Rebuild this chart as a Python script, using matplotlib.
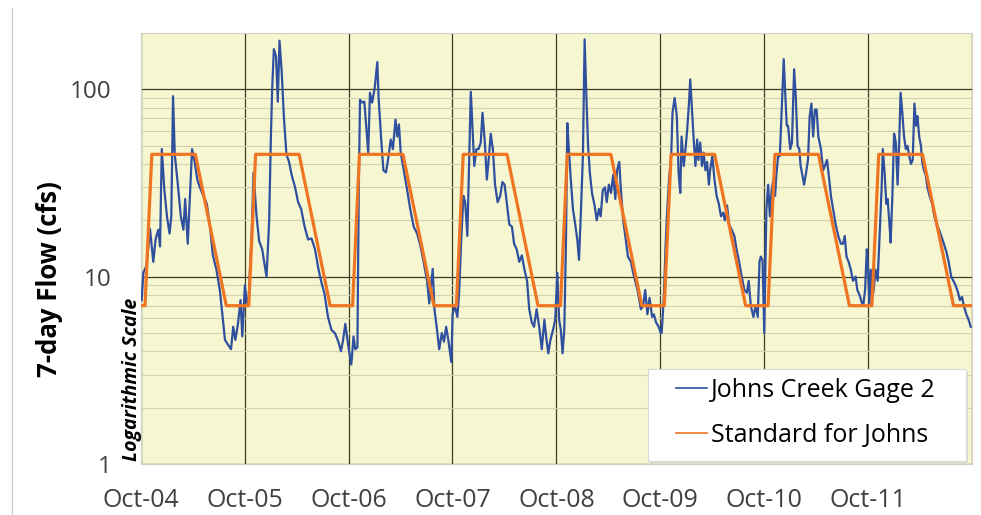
import matplotlib

matplotlib.use("Agg")
import matplotlib.pyplot as plt  # noqa: E402
import matplotlib.dates as mdates  # noqa: E402
import numpy as np  # noqa: E402
import pandas as pd  # noqa: E402
from matplotlib.lines import Line2D  # noqa: E402
from matplotlib.patches import Rectangle  # noqa: E402
from matplotlib.ticker import FixedLocator, NullFormatter  # noqa: E402

plt.rcParams["font.family"] = ["Open Sans", "DejaVu Sans"]

# 7-day flow at Johns Creek Gage 2
# x = months since 1 Oct 2004, y = cfs
flow_month = [
    0.08, 0.27, 0.65, 1.04, 1.42, 1.7, 2.0, 2.2, 2.4, 2.7, 3.0, 3.3, 3.5, 3.7, 3.9,
    4.2, 4.6, 4.9, 5.1, 5.4, 5.65, 5.9, 6.2, 6.5, 6.8, 7.2, 7.6, 8.0, 8.3, 8.7,
    9.1, 9.4, 9.7, 10.1, 10.4, 10.65, 10.9, 11.2, 11.5, 11.7, 12.0,
    12.2, 12.4, 12.8, 13.0, 13.35, 13.65, 14.0, 14.5, 14.8, 15.0, 15.15, 15.35,
    15.6, 15.8, 16.0, 16.25, 16.5, 16.8, 17.1, 17.4, 17.8, 18.15, 18.5, 18.9,
    19.3, 19.7, 20.1, 20.5, 20.8, 21.2, 21.6, 22.0, 22.4, 22.8, 23.1, 23.35,
    23.6, 24.0,
    24.3, 24.55, 24.75, 25.0, 25.15, 25.3, 25.55, 25.8, 26.05, 26.25, 26.45,
    26.7, 27.0, 27.3, 27.45, 27.75, 28.0, 28.3, 28.6, 28.85, 29.1, 29.4, 29.6,
    29.8, 30.0, 30.35, 30.75, 31.1, 31.5, 31.9, 32.3, 32.65, 33.05, 33.3, 33.7,
    33.9, 34.2, 34.45, 34.75, 35.0, 35.25, 35.5, 35.85, 36.0,
    36.25, 36.55, 36.75, 37.0, 37.25, 37.45, 37.7, 37.9, 38.1, 38.3, 38.5,
    38.75, 39.0, 39.25, 39.45, 39.7, 39.95, 40.2, 40.4, 40.65, 40.9, 41.2, 41.5,
    41.75, 42.0, 42.25, 42.55, 42.85, 43.1, 43.4, 43.7, 44.0, 44.3, 44.6, 44.85,
    45.15, 45.4, 45.7, 46.0, 46.3, 46.6, 46.8, 47.05, 47.3, 47.6, 47.85,
    48.1, 48.3, 48.5, 48.7, 48.9, 49.1, 49.25, 49.45, 49.65, 49.9, 50.2, 50.4,
    50.6, 50.8, 51.05, 51.25, 51.45, 51.65, 51.85, 52.1, 52.4, 52.65, 52.9,
    53.1, 53.35, 53.6, 53.8, 54.05, 54.3, 54.55, 54.8, 55.0, 55.25, 55.4, 55.7,
    55.95, 56.25, 56.6, 56.85, 57.1, 57.4, 57.75, 58.0, 58.25, 58.5, 58.75,
    59.05, 59.25, 59.5, 59.8, 60.05,
    60.15, 60.4, 60.6, 60.75, 61.0, 61.25, 61.4, 61.65, 61.9, 62.1, 62.3, 62.45,
    62.7, 62.9, 63.1, 63.3, 63.45, 63.65, 63.85, 64.05, 64.25, 64.4, 64.6, 64.8,
    65.0, 65.2, 65.4, 65.6, 65.75, 66.0, 66.25, 66.5, 66.75, 67.0, 67.25, 67.45,
    67.7, 67.95, 68.25, 68.55, 68.8, 69.1, 69.4, 69.7, 70.0, 70.2, 70.45, 70.75,
    71.0, 71.25, 71.45, 71.6, 71.8, 72.0,
    72.25, 72.45, 72.65, 72.85, 73.05, 73.25, 73.4, 73.6, 73.8, 74.0, 74.25,
    74.4, 74.6, 74.75, 75.0, 75.2, 75.45, 75.65, 75.85, 76.05, 76.2, 76.4, 76.6,
    76.8, 77.05, 77.25, 77.45, 77.65, 77.85, 78.05, 78.25, 78.55, 78.8, 79.0,
    79.25, 79.45, 79.7, 79.95, 80.25, 80.55, 80.85, 81.1, 81.3, 81.5, 81.75,
    82.0, 82.25, 82.55, 82.75, 83.05, 83.25, 83.45, 83.65, 83.85, 84.0, 84.15,
    84.3, 84.6, 84.85, 85.1, 85.35, 85.55, 85.7, 85.9, 86.1, 86.25, 86.45, 86.6,
    86.8, 87.0, 87.2, 87.4, 87.6, 87.75, 87.95, 88.15, 88.35, 88.55, 88.75,
    88.95, 89.15, 89.35, 89.55, 89.7, 89.9, 90.1, 90.25, 90.45, 90.65, 90.85,
    91.1, 91.4, 91.65, 91.9, 92.2, 92.45, 92.75, 93.05, 93.3, 93.6, 93.85, 94.1,
    94.4, 94.6, 94.85, 95.05, 95.35, 95.6, 95.85,
]
flow_cfs = [
    7.5, 10.5, 11.5, 18, 12, 16, 17.8, 14.5, 48, 29, 21, 17, 21, 92, 45,
    33, 21, 17.8, 26, 15, 27, 48, 41, 33, 30, 27, 24.5, 18, 13, 11,
    8.5, 6.3, 4.6, 4.3, 4.1, 5.4, 4.6, 5.6, 7.5, 4.8, 9,
    7.5, 7, 17.8, 36, 21, 15.5, 14, 10, 19.5, 54, 100, 164,
    150, 86, 182, 125, 72, 45, 41, 35, 30, 25, 23, 18.5,
    15.8, 16, 14, 11, 9.5, 8.1, 6.1, 5.2, 5, 4.5, 4.0, 4.6,
    5.6, 4.1,
    3.4, 4.8, 4.1, 4.2, 27, 88, 85, 86, 61, 46, 96,
    85, 102, 140, 90, 54, 37, 36, 44, 54, 48, 69, 56,
    65, 46, 37, 29, 23, 18.5, 17, 14.5, 12, 9.5, 7.2, 11,
    6.7, 5.2, 4.1, 5, 4.5, 5.4, 4.6, 3.5, 6.3,
    7, 6.1, 8.2, 16, 27, 25, 16.5, 40, 97, 61, 39,
    48, 48, 52, 75, 54, 33, 44, 58, 48, 31, 25, 27,
    32, 31, 25, 19, 18.5, 15, 14, 12, 13, 10.9, 9.5, 6.7,
    5.7, 5.4, 6.7, 5.4, 4.1, 5.9, 4.8, 3.9, 4.6, 5.2, 5.9,
    10.5, 5.9, 5.2, 3.9, 5.2, 16, 66, 46, 33, 23, 18.5, 15.8,
    12.3, 21, 44, 185, 92, 50, 36, 28, 24, 20, 23,
    21, 29, 30, 25, 31, 28, 35, 26, 37, 41, 31, 20,
    16.5, 12.8, 12, 10.5, 9.5, 8.3, 6.7, 7, 8.5, 6.3, 7.7,
    6.1, 6.3, 5.7, 5.4, 5.0,
    5, 7.8, 14.5, 21, 33, 44, 75, 90, 72, 36, 28, 56,
    39, 48, 61, 84, 113, 78, 54, 39, 54, 42, 52, 39,
    46, 37, 41, 31, 37, 44, 33, 27, 24.5, 21, 22, 20,
    24, 19, 17.8, 16.5, 14, 12, 10, 8.5, 8.2, 9.5, 7, 6.1,
    7, 6.1, 12, 12.8, 12.3, 5,
    23, 31, 21, 29, 33, 27, 35, 44, 44, 75, 145,
    100, 64, 64, 48, 52, 128, 90, 50, 48, 39, 35, 31,
    35, 42, 72, 84, 56, 78, 78, 56, 48, 37, 39,
    42, 35, 27, 23, 19, 16.5, 15, 15, 16.5, 12.8, 12,
    10.9, 9.5, 10, 8.5, 7.9, 7.3, 7.1, 8.5, 14, 10.9, 7,
    10.9, 8.2, 10.9, 9.5, 17.8, 29, 48, 36, 24.5, 26, 19.5, 15.2,
    27, 58, 52, 31, 54, 96, 75, 56, 48, 50, 44,
    40, 42, 84, 64, 72, 56, 50, 41, 37, 35, 30,
    27, 24.5, 21, 19, 17.8, 16.5, 15, 13.5, 12, 10, 9.5, 9,
    8.2, 7.5, 7.8, 7, 6.3, 5.9, 5.4,
]

# seasonal flow standard (cfs) at its break dates
std_dates = ["2004-10-01"]
std_cfs = [7]
for yr in range(2004, 2012):
    std_dates += [f"{yr}-10-15", f"{yr}-11-08", f"{yr + 1}-04-10", f"{yr + 1}-07-28"]
    std_cfs += [7, 45, 45, 7]
std_dates.append("2012-09-28")
std_cfs.append(7)

tick_dates = [f"{yr}-10-01" for yr in range(2004, 2013)]
tick_labels = ["Oct-04", "Oct-05", "Oct-06", "Oct-07", "Oct-08", "Oct-09", "Oct-10", "Oct-11", ""]

start = pd.Timestamp("2004-10-01")
flow_dates = start + pd.to_timedelta(np.array(flow_month) * 30.4375, unit="D")

W, H = 981, 515
fig = plt.figure(figsize=(W / 100, H / 100), dpi=100)
ax = fig.add_axes([141 / W, 1 - 464 / H, 831 / W, 431 / H])
ax.set_facecolor("#f6f7d0")

ax.plot(flow_dates, flow_cfs, color="#2f4f9f", lw=1.6, label="Johns Creek Gage 2", zorder=3)
ax.plot(pd.to_datetime(std_dates), std_cfs, color="#f07522", lw=2.3,
        label="Standard for Johns", zorder=4)

ax.set_yscale("log")
ax.set_ylim(1, 200)
ax.set_xlim(pd.Timestamp("2004-10-01"), pd.Timestamp("2012-09-28"))

ax.yaxis.set_major_locator(FixedLocator([1, 10, 100]))
ax.set_yticklabels(["1", "10", "100"])
minor = [m * d for d in (1, 10, 100) for m in range(2, 10) if m * d < 200]
ax.yaxis.set_minor_locator(FixedLocator(minor))
ax.yaxis.set_minor_formatter(NullFormatter())

ax.set_xticks(pd.to_datetime(tick_dates))
ax.set_xticklabels(tick_labels)
ax.xaxis.set_minor_locator(mdates.YearLocator(1, month=10, day=1))

ax.grid(which="major", axis="both", color="#3c3c28", lw=0.9, zorder=1)
ax.grid(which="minor", axis="y", color="#d2d2b2", lw=0.8, zorder=1)
ax.set_axisbelow(True)

ax.tick_params(axis="both", which="both", length=0, colors="#404040")
ax.tick_params(axis="y", pad=21, labelsize=17.5)
ax.tick_params(axis="x", pad=17, labelsize=18)

for side in ax.spines.values():
    side.set_color("#d0d0c0")
    side.set_linewidth(0.8)

fig.text(50 / W, 1 - 279 / H, "7-day Flow (cfs)", rotation=90, fontsize=18.5,
         fontweight="bold", ha="center", va="center", color="black")
fig.text(132 / W, 1 - 461 / H, "Logarithmic Scale", rotation=90, fontsize=14,
         fontweight="bold", fontstyle="italic", ha="center", va="bottom", color="black")

# white legend box with a faint shadow, legend drawn on top of it
fig.add_artist(Rectangle((650 / W, 1 - 464 / H), 318 / W, 92 / H, transform=fig.transFigure,
                         facecolor="#dcdcd0", edgecolor="none", zorder=5))
fig.add_artist(Rectangle((648 / W, 1 - 461 / H), 318 / W, 92 / H, transform=fig.transFigure,
                         facecolor="white", edgecolor="#d8d8d8", lw=0.8, zorder=5))
handles, labels = ax.get_legend_handles_labels()
leg = fig.legend(handles, labels, loc="center", bbox_to_anchor=(806 / W, 1 - 413 / H),
                 fontsize=18, frameon=False, handlelength=1.25, handletextpad=0.15,
                 borderpad=0.2, labelspacing=0.8)
leg.set_zorder(6)
for h in leg.get_lines():
    h.set_linewidth(1.2)

fig.add_artist(Line2D([12 / W, 12 / W], [0, 1 - 8 / H], color="#d0d0d0", lw=1))

fig.savefig("out.png", dpi=100)
